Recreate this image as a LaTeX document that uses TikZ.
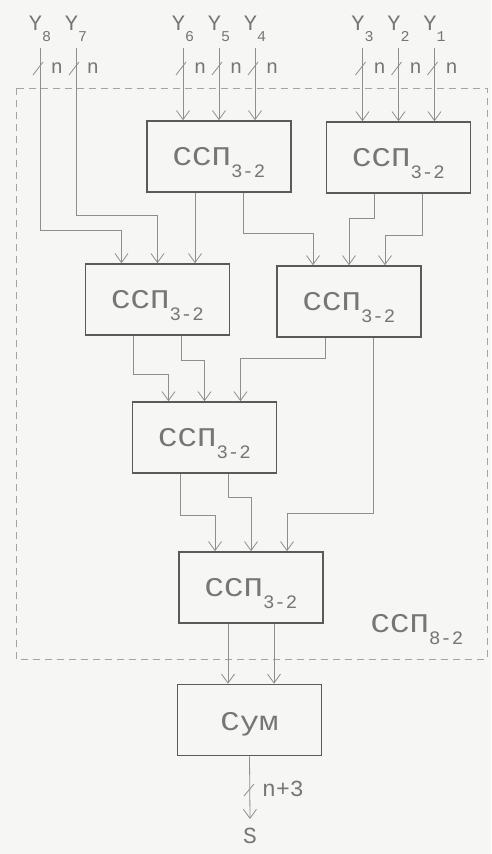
\documentclass[tikz,border=0pt]{standalone}
\usepackage{graphicx}
\usepackage{fontspec}
\setmainfont{Liberation Mono}
\usetikzlibrary{arrows.meta}
\definecolor{ink}{HTML}{8E8E8E}
\definecolor{txt}{HTML}{767676}
\definecolor{frame}{HTML}{5A5A5A}
\definecolor{paper}{HTML}{F6F6F4}
\newcommand{\wide}[1]{\scalebox{1.2}[1]{#1}}
\newcommand{\ssp}[1]{\wide{ССП}\raisebox{-12pt}{\fontsize{19}{19}\selectfont #1}}
\newcommand{\yin}[1]{Y\raisebox{-11pt}{\fontsize{15}{15}\selectfont #1}}
\tikzset{
	blk/.style={draw=frame, line width=1.6pt, minimum width=144pt, minimum height=71pt, inner sep=0pt, text height=29pt, text depth=12pt, text=txt, font=\fontsize{27}{29}\selectfont},
	wire/.style={draw=ink, line width=0.8pt, -{Straight Barb[length=9pt,width=13pt]}},
	bus/.style={draw=ink, line width=0.8pt},
	lbl/.style={text=txt, inner sep=0pt}
}
\begin{document}
\begin{tikzpicture}[x=1pt, y=-1pt]
		\fill[paper] (0,0) rectangle (491,854);
		\useasboundingbox (0,0) rectangle (491,854);
		
		%outer frame
		\draw[ink!80, line width=0.8pt, dash pattern=on 7pt off 5pt] (16,88) rectangle (487,659);
		\node[lbl, anchor=base, font=\fontsize{27}{29}\selectfont] (sspAll) at (417,632) {\ssp{8-2}};
		
		%blocks
		\node[blk] (sspA) at (219,156.5) {\ssp{3-2}};
		\node[blk] (sspB) at (398.5,157.5) {\ssp{3-2}};
		\node[blk] (sspC) at (157.5,299.5) {\ssp{3-2}};
		\node[blk] (sspD) at (349,301.5) {\ssp{3-2}};
		\node[blk] (sspE) at (204.5,437.5) {\ssp{3-2}};
		\node[blk] (sspF) at (251,587.5) {\ssp{3-2}};
		\node[blk, text depth=8pt] (sum) at (249.5,720) {\wide{Сум}};
		
		%inputs
		\foreach \k/\x in {8/40, 7/76, 6/183, 5/219, 4/255, 3/362.5, 2/398.5, 1/434.5}{
			\coordinate (y\k) at (\x,48);
			\node[lbl, anchor=base, font=\fontsize{22}{24}\selectfont] (ylab\k) at (\x,30) {\yin{\k}};
			\draw[bus] (\x-7,75) -- (\x+3,62);
			\node[lbl, anchor=base, font=\fontsize{20}{22}\selectfont] (n\k) at (\x+17,73) {n};
		}
		\foreach \k in {6,5,4}{
			\draw[wire] (y\k) -- (y\k |- sspA.north);
		}
		\foreach \k in {3,2,1}{
			\draw[wire] (y\k) -- (y\k |- sspB.north);
		}
		\draw[wire] (y8) -- ++(0,182) -| ([xshift=-36pt]sspC.north);
		\draw[wire] (y7) -- ++(0,167) -| (sspC.north);
		
		%first level
		\draw[wire] ([xshift=-24pt]sspA.south) -- ([xshift=-24pt]sspA.south |- sspC.north);
		\draw[wire] ([xshift=24pt]sspA.south) -- ++(0,41) -| ([xshift=-36pt]sspD.north);
		\draw[wire] ([xshift=-24pt]sspB.south) -- ++(0,25) -| (sspD.north);
		\draw[wire] ([xshift=24pt]sspB.south) -- ++(0,42) -| ([xshift=36pt]sspD.north);
		
		%second level
		\draw[wire] ([xshift=-24pt]sspC.south) -- ++(0,39) -| ([xshift=-36pt]sspE.north);
		\draw[wire] ([xshift=24pt]sspC.south) -- ++(0,25) -| (sspE.north);
		\draw[wire] ([xshift=-24pt]sspD.south) -- ++(0,21) -| ([xshift=36pt]sspE.north);
		\draw[wire] ([xshift=24pt]sspD.south) -- ++(0,176) -| ([xshift=36pt]sspF.north);
		
		%third level
		\draw[wire] ([xshift=-24pt]sspE.south) -- ++(0,42) -| ([xshift=-36pt]sspF.north);
		\draw[wire] ([xshift=24pt]sspE.south) -- ++(0,24) -| (sspF.north);
		\draw[wire] ([xshift=-23pt]sspF.south) -- ([xshift=-23pt]sspF.south |- sum.north);
		\draw[wire] ([xshift=23pt]sspF.south) -- ([xshift=23pt]sspF.south |- sum.north);
		
		%output
		\node[lbl, font=\fontsize{23}{25}\selectfont] (sOut) at (250,836) {S};
		\draw[wire] (sum.south) -- ([yshift=9pt]sOut.north);
		\draw[bus] (244,796) -- (254,784);
		\node[lbl, anchor=west, font=\fontsize{23}{25}\selectfont] (nOut) at (262,789) {n+3};
\end{tikzpicture}
\end{document}
